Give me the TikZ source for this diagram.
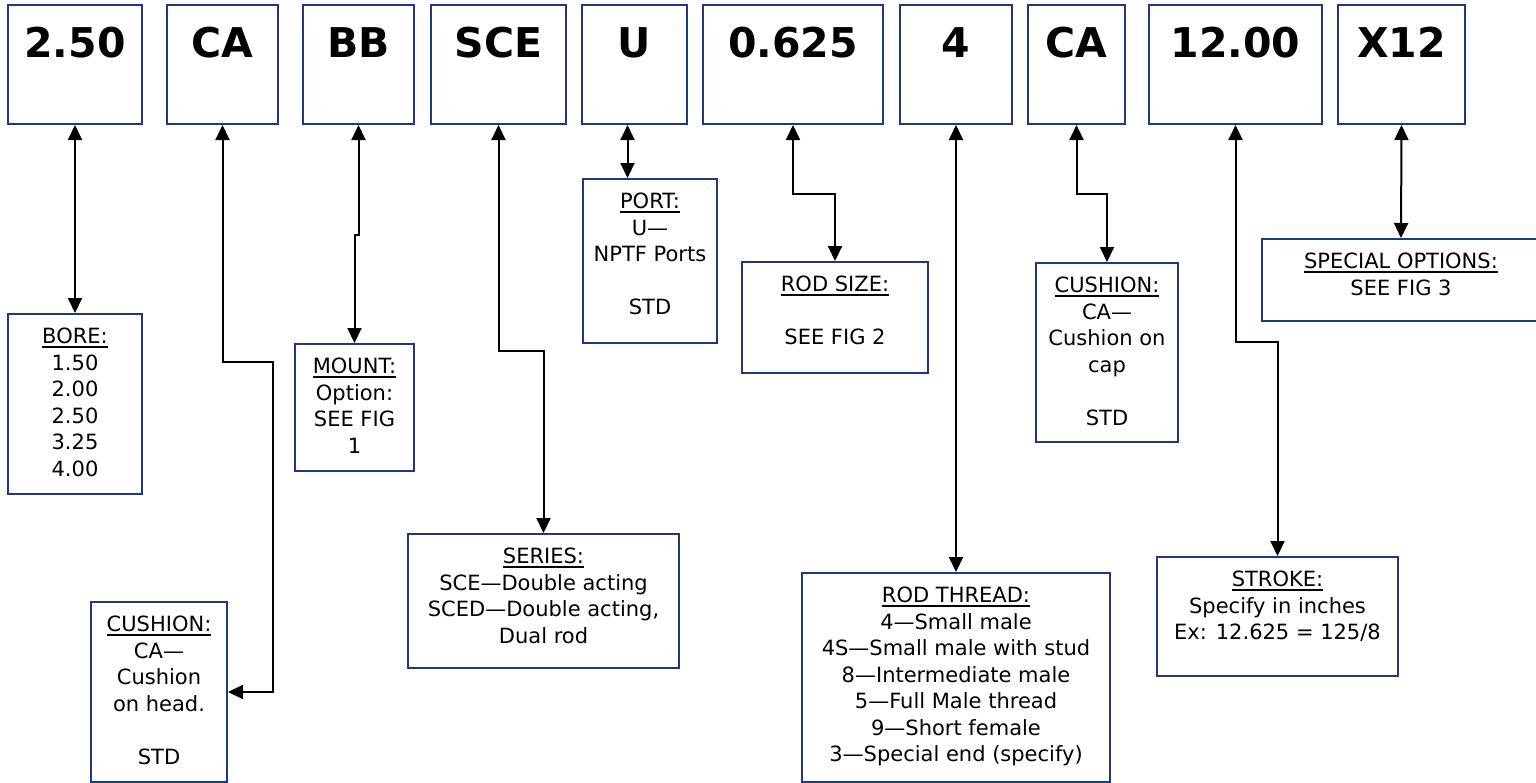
\documentclass[tikz,border=0pt]{standalone}
\usepackage{fontspec}
\setmainfont{DejaVu Sans}
\usetikzlibrary{arrows.meta,positioning}
\definecolor{boxblue}{RGB}{31,56,130}
\newcommand{\ulhead}[1]{\setbox0\hbox{#1}\rlap{\rule[-4.4pt]{\wd0}{2pt}}\box0}

\begin{document}
\begin{tikzpicture}[x=1pt, y=-1pt, >={Triangle[length=15pt,width=14pt]}]
    % Styles
    \tikzstyle{code} = [rectangle, draw=boxblue, line width=2pt, inner sep=0pt, anchor=north west, minimum height=119pt, text height=52.7pt, text depth=66.3pt, font=\fontsize{41}{41}\selectfont\bfseries]
    \tikzstyle{panel} = [rectangle, draw=boxblue, line width=2pt, anchor=north west]
    \tikzstyle{info} = [anchor=north, inner sep=0pt, align=center, yshift=-15pt, font=\fontsize{21}{26.5}\selectfont]
    \tikzstyle{link} = [<->, line width=2pt]

    \useasboundingbox (0,0) rectangle (1536,782);

    % Code boxes
    \node[code, minimum width=134pt] (Code1) at (7,4) {2.50};
    \node[code, minimum width=111pt] (Code2) at (166,4) {CA};
    \node[code, minimum width=111pt] (Code3) at (302,4) {BB};
    \node[code, minimum width=135pt] (Code4) at (430,4) {SCE};
    \node[code, minimum width=105pt] (Code5) at (581,4) {U};
    \node[code, minimum width=180pt] (Code6) at (702,4) {0.625};
    \node[code, minimum width=112pt] (Code7) at (899,4) {4};
    \node[code, minimum width=97pt] (Code8) at (1027,4) {CA};
    \node[code, minimum width=173pt] (Code9) at (1148,4) {12.00};
    \node[code, minimum width=127pt] (Code10) at (1337,4) {X12};

    % Option boxes
    \node[panel, minimum width=134pt, minimum height=180pt] (Bore) at (7,313) {};
    \node[panel, minimum width=136pt, minimum height=180pt] (CushionHead) at (90,601) {};
    \node[panel, minimum width=119pt, minimum height=127pt] (Mount) at (294,343) {};
    \node[panel, minimum width=271pt, minimum height=134pt] (Series) at (407,533) {};
    \node[panel, minimum width=134pt, minimum height=164pt] (Port) at (582,178) {};
    \node[panel, minimum width=186pt, minimum height=111pt] (RodSize) at (741,261) {};
    \node[panel, minimum width=308pt, minimum height=209pt] (RodThread) at (801,572) {};
    \node[panel, minimum width=142pt, minimum height=179pt] (CushionCap) at (1035,262) {};
    \node[panel, minimum width=241pt, minimum height=119pt] (Stroke) at (1156,556) {};
    \node[panel, minimum width=278pt, minimum height=82pt] (Special) at (1261,238) {};

    % Texts
    \node[info] (BoreText) at (Bore.north) {\ulhead{BORE:}\\1.50\\2.00\\2.50\\3.25\\4.00};
    \node[info] (CushionHeadText) at (CushionHead.north) {\ulhead{CUSHION:}\\CA—\\Cushion\\on head.\\[26.5pt]STD};
    \node[info] (MountText) at (Mount.north) {\ulhead{MOUNT:}\\Option:\\SEE FIG\\1};
    \node[info] (SeriesText) at (Series.north) {\ulhead{SERIES:}\\SCE—Double acting\\SCED—Double acting,\\Dual rod};
    \node[info] (PortText) at (Port.north) {\ulhead{PORT:}\\U—\\NPTF Ports\\[26.5pt]STD};
    \node[info] (RodSizeText) at (RodSize.north) {\ulhead{ROD SIZE:}\\[26.5pt]SEE FIG 2};
    \node[info] (RodThreadText) at (RodThread.north) {\ulhead{ROD THREAD:}\\4—Small male\\4S—Small male with stud\\8—Intermediate male\\5—Full Male thread\\9—Short female\\3—Special end (specify)};
    \node[info] (CushionCapText) at (CushionCap.north) {\ulhead{CUSHION:}\\CA—\\Cushion on\\cap\\[26.5pt]STD};
    \node[info] (StrokeText) at (Stroke.north) {\ulhead{STROKE:}\\Specify in inches\\Ex: 12.625 = 125/8};
    \node[info] (SpecialText) at (Special.north) {\ulhead{SPECIAL OPTIONS:}\\SEE FIG 3};

    % Arrows
    \draw[link] (Code1.south) -- (Bore.north);
    \draw[link] (Code2.south) |- (273,362) |- (CushionHead.east);
    \draw[link] (Code3.south) -- ++(0,110) -| (Mount.north);
    \draw[link] (Code4.south) -- ++(0,226) -| (Series.north);
    \draw[link] ([xshift=-7pt]Code5.south) -- ([xshift=-7pt]Code5.south |- Port.north);
    \draw[link] (Code6.south) -- ++(0,69) -| (RodSize.north);
    \draw[link] (Code7.south) -- (RodThread.north);
    \draw[link] (Code8.south) -- ++(0,69) -| (CushionCap.north);
    \draw[link] (Code9.south) -- ++(0,217) -| (Stroke.north);
    \draw[link] (Code10.south) -- (Special.north);
\end{tikzpicture}
\end{document}
